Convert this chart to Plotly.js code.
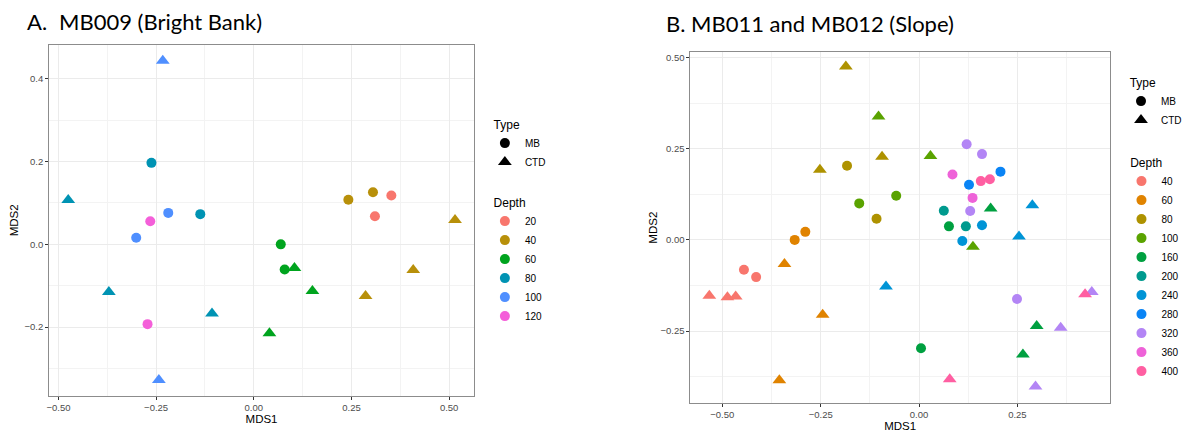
<!DOCTYPE html>
<html><head><meta charset="utf-8">
<script src="https://cdn.plot.ly/plotly-3.0.1.min.js"></script>
<style>html,body{margin:0;padding:0;background:#fff}#chart{width:1187px;height:433px}</style>
</head><body><div id="chart"></div>
<script>
// ---------- Panel A: MB009 (Bright Bank) ----------
const depthsA = [20, 40, 60, 80, 100, 120];
const colorsA = ['#F8766D', '#B8900A', '#00A41E', '#0093B3', '#4F8FFF', '#F45FD9'];
const aDepth = [20, 20, 40, 40, 40, 40, 40, 60, 60, 60, 60, 60, 80, 80, 80, 80, 80, 100, 100, 100, 100, 120, 120];
const aType  = ['MB','MB','MB','MB','CTD','CTD','CTD','MB','MB','CTD','CTD','CTD','MB','MB','CTD','CTD','CTD','MB','MB','CTD','CTD','MB','MB'];
const aMDS1  = [0.352, 0.310, 0.242, 0.305, 0.515, 0.408, 0.286, 0.069, 0.079, 0.104, 0.150, 0.040, -0.262, -0.137, -0.475, -0.371, -0.107, -0.219, -0.301, -0.233, -0.243, -0.265, -0.272];
const aMDS2  = [0.118, 0.068, 0.108, 0.126, 0.059, -0.062, -0.125, 0.000, -0.061, -0.057, -0.113, -0.215, 0.197, 0.073, 0.107, -0.115, -0.167, 0.076, 0.016, 0.444, -0.328, 0.056, -0.193];

// ---------- Panel B: MB011 and MB012 (Slope) ----------
const depthsB = [40, 60, 80, 100, 160, 200, 240, 280, 320, 360, 400];
const colorsB = ['#F8766D', '#E08300', '#AE9200', '#5AA300', '#00A040', '#009A8E', '#0094D6', '#0A84F5', '#B385F5', '#EE62D8', '#FF5FA2'];
const bDepth = [40,40,40,40,40, 60,60,60,60,60, 80,80,80,80,80, 100,100,100,100,100, 160,160,160,160,160, 200,200, 240,240,240,240,240, 280,280, 320,320,320,320,320,320,320, 360,360, 400,400,400,400];
const bType  = ['MB','MB','CTD','CTD','CTD', 'MB','MB','CTD','CTD','CTD', 'MB','MB','CTD','CTD','CTD', 'MB','MB','CTD','CTD','CTD', 'MB','MB','CTD','CTD','CTD', 'MB','MB', 'MB','MB','CTD','CTD','CTD', 'MB','MB', 'MB','MB','MB','MB','CTD','CTD','CTD', 'MB','MB', 'MB','MB','CTD','CTD'];
const bMDS1  = [-0.445,-0.414,-0.533,-0.487,-0.466, -0.289,-0.316,-0.342,-0.245,-0.355, -0.183,-0.108,-0.186,-0.094,-0.252, -0.152,-0.058,-0.103,0.029,0.137, 0.076,0.005,0.182,0.299,0.264, 0.063,0.119, 0.160,0.110,0.288,0.254,-0.084, 0.207,0.127, 0.121,0.160,0.130,0.249,0.360,0.296,0.439, 0.085,0.136, 0.157,0.180,0.078,0.422];
const bMDS2  = [-0.082,-0.102,-0.153,-0.157,-0.155, 0.022,0.000,-0.066,-0.205,-0.385, 0.203,0.058,0.475,0.228,0.192, 0.100,0.121,0.338,0.230,-0.019, 0.037,-0.297,0.086,-0.236,-0.314, 0.080,0.037, 0.040,-0.003,0.095,0.009,-0.128, 0.187,0.151, 0.262,0.235,0.079,-0.162,-0.241,-0.402,-0.143, 0.179,0.115, 0.161,0.166,-0.382,-0.149];

const types = ['MB', 'CTD'];
const typeSymbols = {MB: 'circle', CTD: 'triangle-up'};
const typeSizes = {MB: 10, CTD: 12};

const titleALetter = 'A.';
const titleAText = 'MB009 (Bright Bank)';
const titleB = 'B. MB011 and MB012 (Slope)';
const xTicksA = [-0.50, -0.25, 0.00, 0.25, 0.50];
const yTicksA = [-0.2, 0.0, 0.2, 0.4];
const xTicksB = [-0.50, -0.25, 0.00, 0.25];
const yTicksB = [-0.25, 0.00, 0.25, 0.50];

const FONT = 'Liberation Sans, Arial, sans-serif';
const traces = [];
function addPanel(depths, colors, dep, typ, xs, ys, xa, ya, legType, legDepth) {
  depths.forEach((d, i) => {
    types.forEach(t => {
      const px = [], py = [];
      for (let k = 0; k < dep.length; k++) if (dep[k] === d && typ[k] === t) { px.push(xs[k]); py.push(ys[k]); }
      if (!px.length) return;
      traces.push({type: 'scatter', mode: 'markers', x: px, y: py, xaxis: xa, yaxis: ya, showlegend: false,
        hoverinfo: 'x+y', marker: {color: colors[i], symbol: typeSymbols[t], size: typeSizes[t], line: {width: 0}}});
    });
  });
  types.forEach(t => traces.push({type: 'scatter', mode: 'markers', x: [null], y: [null], xaxis: xa, yaxis: ya,
    name: t, legend: legType, showlegend: true, marker: {color: '#000', symbol: typeSymbols[t], size: typeSizes[t]}}));
  depths.forEach((d, i) => traces.push({type: 'scatter', mode: 'markers', x: [null], y: [null], xaxis: xa, yaxis: ya,
    name: String(d), legend: legDepth, showlegend: true, marker: {color: colors[i], symbol: 'circle', size: 10}}));
}
addPanel(depthsA, colorsA, aDepth, aType, aMDS1, aMDS2, 'x', 'y', 'legend', 'legend2');
addPanel(depthsB, colorsB, bDepth, bType, bMDS1, bMDS2, 'x2', 'y2', 'legend3', 'legend4');

const W = 1187, H = 433;
function ax(domain, range, tickvals, fmt, minorvals, title, standoff) {
  return {domain: domain, range: range, tickmode: 'array', tickvals: tickvals, tickformat: fmt,
    showgrid: true, gridcolor: '#EBEBEB', gridwidth: 1, zeroline: false,
    showline: true, mirror: true, linecolor: '#8C8C8C', linewidth: 1,
    ticks: 'outside', ticklen: 3, tickcolor: '#333', tickwidth: 1,
    tickfont: {family: FONT, size: 9.5, color: '#4D4D4D'},
    minor: {tickvals: minorvals, showgrid: true, gridcolor: '#F3F3F3', gridwidth: 1, ticks: ''},
    title: {text: title, font: {family: FONT, size: 11.5, color: '#000'}, standoff: standoff},
    automargin: false, fixedrange: true};
}
function legendAt(left, top, title) {
  return {x: left / W, y: 1 - top / H, xanchor: 'left', yanchor: 'top', bgcolor: 'rgba(0,0,0,0)',
    font: {family: FONT, size: 10, color: '#000'},
    title: {text: '\u00a0\u00a0' + title, font: {family: FONT, size: 12, color: '#000'}},
    itemsizing: 'trace', tracegroupgap: 0, itemclick: false, itemdoubleclick: false};
}

const layout = {
  width: W, height: H, margin: {l: 0, r: 0, t: 0, b: 0},
  paper_bgcolor: '#fff', plot_bgcolor: '#fff', hovermode: 'closest',
  xaxis: ax([49.5 / W, 478 / W], [-0.524, 0.5635], xTicksA, '.2f', [-0.375, -0.125, 0.125, 0.375], 'MDS1', 2),
  yaxis: ax([1 - 395.7 / H, 1 - 45 / H], [-0.366, 0.482], yTicksA, '.1f', [-0.3, -0.1, 0.1, 0.3], 'MDS2', 3),
  xaxis2: ax([696.3 / W, 1119.3 / W], [-0.581, 0.485], xTicksB, '.2f', [-0.375, -0.125, 0.125, 0.375], 'MDS1', 2),
  yaxis2: ax([1 - 403 / H, 1 - 52.3 / H], [-0.447, 0.514], yTicksB, '.2f', [-0.375, -0.125, 0.125, 0.375], 'MDS2', 0),
  legend: legendAt(489, 113, 'Type'), legend2: legendAt(489, 191, 'Depth'),
  legend3: legendAt(1131, 71, 'Type'), legend4: legendAt(1131, 151, 'Depth'),
  annotations: [
    {text: titleALetter, xref: 'paper', yref: 'paper', x: 25 / W, y: 1 - 22 / H, xanchor: 'left', yanchor: 'middle', showarrow: false,
     font: {family: 'Lato, Open Sans, sans-serif', size: 22, color: '#000'}},
    {text: titleAText, xref: 'paper', yref: 'paper', x: 57 / W, y: 1 - 22 / H, xanchor: 'left', yanchor: 'middle', showarrow: false,
     font: {family: 'Lato, Open Sans, sans-serif', size: 22, color: '#000'}},
    {text: titleB, xref: 'paper', yref: 'paper', x: 670 / W, y: 1 - 23 / H, xanchor: 'left', yanchor: 'middle', showarrow: false,
     font: {family: 'Lato, Open Sans, sans-serif', size: 22, color: '#000'}}
  ]
};
layout.yaxis2.anchor = 'x2'; layout.xaxis2.anchor = 'y2';
Plotly.newPlot('chart', traces, layout, {displayModeBar: false});
</script></body></html>
